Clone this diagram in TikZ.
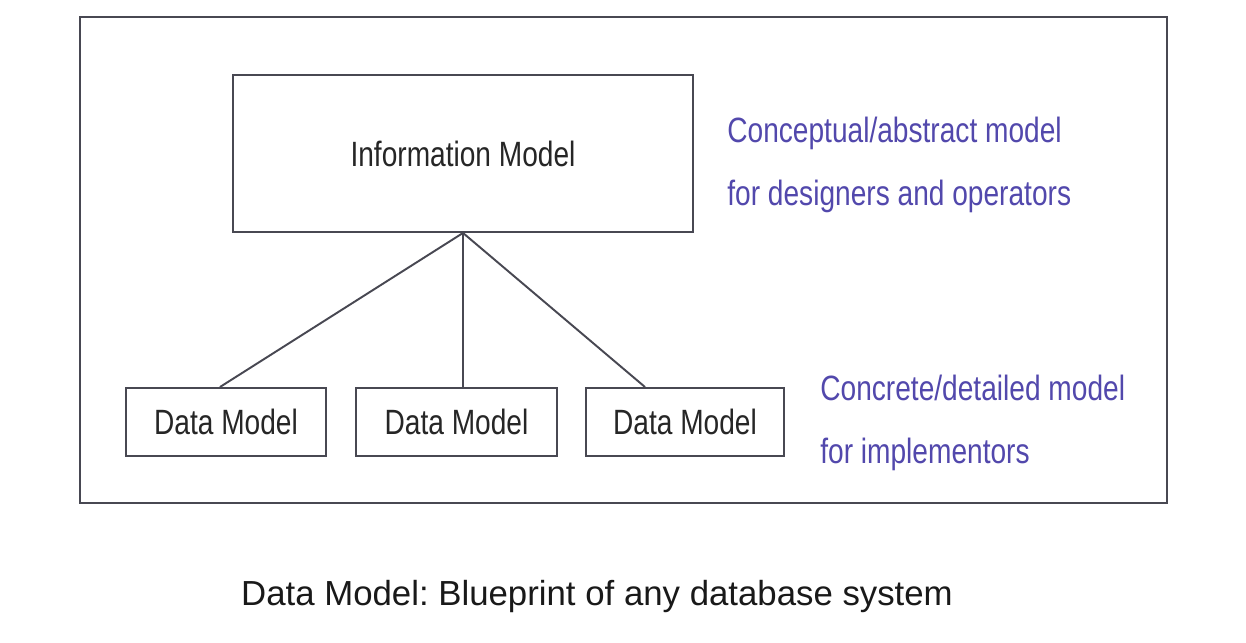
\documentclass[tikz,border=0pt]{standalone}
\usepackage{fontspec}
\setmainfont{Liberation Sans}
\usetikzlibrary{calc}
\frenchspacing

\definecolor{boxgray}{RGB}{72,72,82}
\definecolor{noteblue}{RGB}{82,72,172}

\newcommand{\tallword}[1]{\scalebox{1}[1.25]{#1}}

\tikzset{
	modelbox/.style={draw=boxgray, line width=1.1pt, inner sep=0pt, text=black!85, font=\fontsize{16}{19}\selectfont},
	notetext/.style={anchor=west, inner sep=0pt, text=noteblue, font=\fontsize{16}{19}\selectfont},
	link/.style={draw=boxgray, line width=1.1pt}
}

\begin{document}
\begin{tikzpicture}[x=0.02cm, y=-0.02cm]
		
		\useasboundingbox (0,0) rectangle (1246,642);
		
		%Frame
		\draw[boxgray, line width=1.1pt] (80,17) rectangle (1167,503);
		
		%Information model
		\node[modelbox, minimum width=9.2cm, minimum height=3.14cm] (info) at (463,153.5) {\tallword{Information Model}};
		
		%Data models
		\node[modelbox, minimum width=4cm, minimum height=1.36cm] (data1) at (226,422) {\tallword{Data Model}};
		\node[modelbox, minimum width=4.02cm, minimum height=1.36cm] (data2) at (456.5,422) {\tallword{Data Model}};
		\node[modelbox, minimum width=3.96cm, minimum height=1.36cm] (data3) at (685,422) {\tallword{Data Model}};
		
		%Links
		\draw[link] (info.south) -- ($(data1.north west)!0.47!(data1.north east)$);
		\draw[link] (info.south) -- (info.south |- data2.north);
		\draw[link] (info.south) -- ($(data3.north west)!0.3!(data3.north east)$);
		
		%Notes
		\node[notetext] (concept1) at (727,133) {\tallword{Conceptual/abstract model}};
		\node[notetext] (concept2) at (727,196) {\tallword{for designers and operators}};
		\node[notetext] (concrete1) at (820,388) {\tallword{Concrete/detailed model}};
		\node[notetext] (concrete2) at (820,454) {\tallword{for implementors}};
		
		%Caption
		\node[text=black!90, font=\fontsize{19.8}{23}\selectfont] (caption) at (597,596) {Data Model: Blueprint of any database system};
		
\end{tikzpicture}
\end{document}
